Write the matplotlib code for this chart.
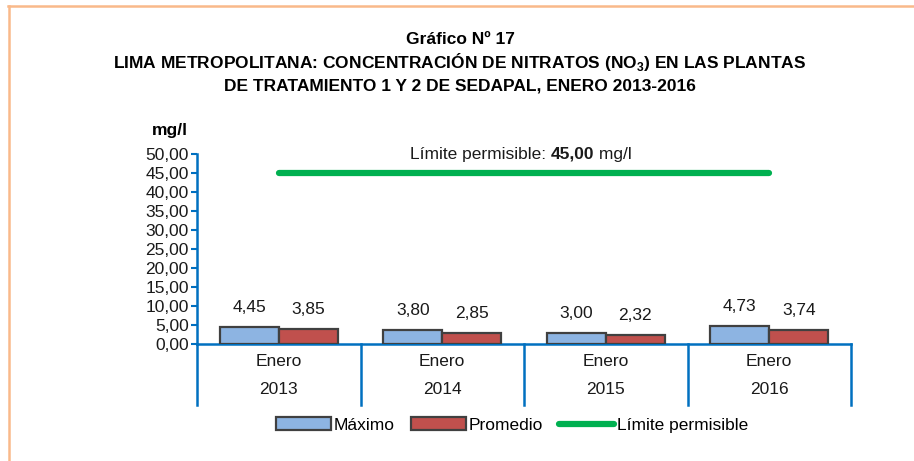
import matplotlib
matplotlib.use("Agg")
import matplotlib.pyplot as plt
from matplotlib import font_manager
from matplotlib.lines import Line2D
from matplotlib.patches import Patch
import numpy as np

# ---- data ----
categories = ["Enero", "Enero", "Enero", "Enero"]
years = ["2013", "2014", "2015", "2016"]
maximo = [4.45, 3.80, 3.00, 4.73]
promedio = [3.85, 2.85, 2.32, 3.74]
limite = [45.00, 45.00, 45.00, 45.00]
yticks = [0, 5, 10, 15, 20, 25, 30, 35, 40, 45, 50]

avail = {f.name for f in font_manager.fontManager.ttflist}
font = "Liberation Sans"
for cand in ["Liberation Sans Narrow", "Arial Narrow", "Liberation Sans"]:
    if cand in avail:
        font = cand
        break
plt.rcParams['font.family'] = [font, 'DejaVu Sans']
plt.rcParams['mathtext.fontset'] = 'custom'
plt.rcParams['mathtext.rm'] = font
plt.rcParams['mathtext.bf'] = font + ':bold'

def fmt(v):
    return f"{v:.2f}".replace(".", ",")

W, H = 914, 461
fig = plt.figure(figsize=(W / 100, H / 100), dpi=100)
ax = fig.add_axes([197 / W, 1 - 344 / H, (851 - 197) / W, (344 - 154) / H])

txt = "#1a1a1a"
blue_axis = "#0070C0"
x = np.arange(len(years))
bw = 0.36
edge = "#404040"
ax.bar(x - bw / 2, maximo, bw, color="#8DB4E2", edgecolor=edge, linewidth=1.6, zorder=3)
ax.bar(x + bw / 2, promedio, bw, color="#C0504D", edgecolor=edge, linewidth=1.6, zorder=3)
ax.plot(x, limite, color="#00B050", lw=4.5, solid_capstyle="round", zorder=3)

for xi, v in zip(x, maximo):
    ax.annotate(fmt(v), (xi - bw / 2, v), xytext=(0, 14), textcoords="offset points",
                ha="center", va="center", fontsize=12.5, color=txt)
for xi, v in zip(x, promedio):
    ax.annotate(fmt(v), (xi + bw / 2, v), xytext=(0, 14), textcoords="offset points",
                ha="center", va="center", fontsize=12.5, color=txt)

ax.set_xlim(-0.5, len(years) - 0.5)
ax.set_ylim(0, 50)
ax.set_yticks(yticks)
ax.set_yticklabels([fmt(t) for t in yticks], fontsize=12.5, color=txt)
ax.tick_params(axis="y", direction="out", length=4, width=1.5, color=blue_axis, pad=2)
ax.set_xticks([])
for s in ["top", "right"]:
    ax.spines[s].set_visible(False)
ax.spines["left"].set_color(blue_axis)
ax.spines["left"].set_linewidth(1.8)
ax.spines["bottom"].set_color(blue_axis)
ax.spines["bottom"].set_linewidth(1.8)

trans = matplotlib.transforms.blended_transform_factory(ax.transData, ax.transAxes)
ybot = -(405 - 344) / 190
for xv in np.arange(-0.5, len(years), 1.0):
    ax.plot([xv, xv], [0, ybot], transform=trans, color=blue_axis, lw=1.8, clip_on=False)
for xi, c, yr in zip(x, categories, years):
    ax.text(xi, -(361 - 344) / 190, c, transform=trans, ha="center", va="center", fontsize=12.5, color=txt)
    ax.text(xi, -(390 - 344) / 190, yr, transform=trans, ha="center", va="center", fontsize=12.5, color=txt)

# mg/l label
fig.text(170 / W, 1 - 130 / H, "mg/l", ha="center", va="center", fontsize=12.5, fontweight="bold")

# limit text
t1 = ax.text((410 - 197) / 654, 1.0, "Límite permisible: ", transform=ax.transAxes,
             ha="left", va="center", fontsize=12.5, color=txt)
t2 = ax.annotate("45,00", xy=(1, 0), xycoords=t1, ha="left", va="bottom",
                 fontsize=12.5, fontweight="bold", color=txt)
t3 = ax.annotate(" mg/l", xy=(1, 0), xycoords=t2, ha="left", va="bottom",
                 fontsize=12.5, color=txt)

# titles
fig.text(460 / W, 1 - 40 / H, "Gráfico Nº 17", ha="center", va="center", fontsize=12.5, fontweight="bold")
fig.text(460 / W, 1 - 62 / H, r"LIMA METROPOLITANA: CONCENTRACIÓN DE NITRATOS (NO$_\mathbf{3}$) EN LAS PLANTAS",
         ha="center", va="center", fontsize=12.5, fontweight="bold")
fig.text(460 / W, 1 - 86 / H, "DE TRATAMIENTO 1 Y 2 DE SEDAPAL, ENERO 2013-2016",
         ha="center", va="center", fontsize=12.5, fontweight="bold")

# legend
handles = [Patch(facecolor="#8DB4E2", edgecolor=edge, linewidth=1.6),
           Patch(facecolor="#C0504D", edgecolor=edge, linewidth=1.6),
           Line2D([0], [0], color="#00B050", lw=4.5, solid_capstyle="round")]
fig.legend(handles, ["Máximo", "Promedio", "Límite permisible"], loc="center",
           bbox_to_anchor=(512 / W, 1 - 425 / H), ncol=3, frameon=False, fontsize=12.5,
           handlelength=3.2, handleheight=0.75, handletextpad=0.15, columnspacing=0.9)

# orange frame
border = "#F9B98A"
fig.add_artist(Line2D([8 / W, 1.0], [1 - 6 / H, 1 - 6 / H], color=border, lw=1.8, transform=fig.transFigure))
fig.add_artist(Line2D([9 / W, 9 / W], [1 - 6 / H, 0], color=border, lw=1.8, transform=fig.transFigure))

fig.savefig("out.png", dpi=100)
